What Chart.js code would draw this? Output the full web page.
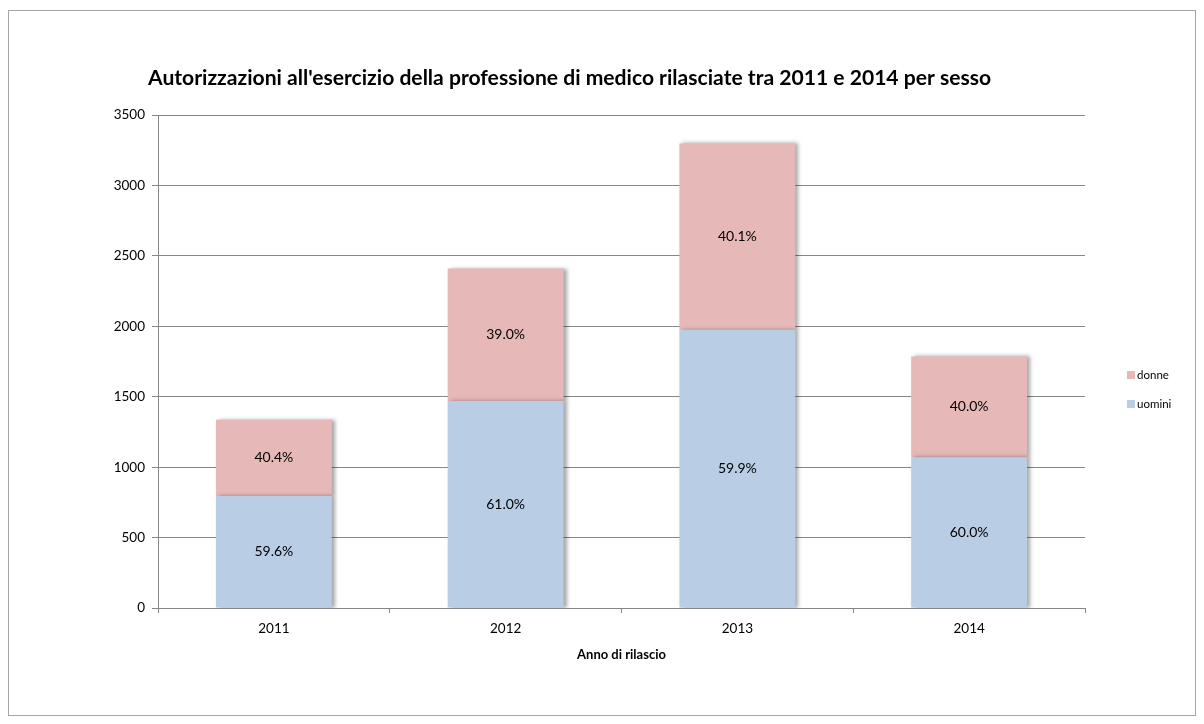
<!DOCTYPE html>
<html>
<head>
<meta charset="utf-8">
<script src="https://cdn.jsdelivr.net/npm/chart.js@4/dist/chart.umd.min.js"></script>
<style>
  html, body { margin: 0; padding: 0; background: #fff; }
  #wrap { width: 1204px; height: 724px; }
</style>
</head>
<body>
<div id="wrap"><canvas id="chart" width="1204" height="724"></canvas></div>
<script>
// data
const years = ["2011", "2012", "2013", "2014"];
const uomini = [796, 1470, 1976, 1071];
const donne = [540, 940, 1322, 715];
const yTicks = [0, 500, 1000, 1500, 2000, 2500, 3000, 3500];

const FONT = "Lato, 'Open Sans', sans-serif";
const titleText = "Autorizzazioni all'esercizio della professione di medico rilasciate tra 2011 e 2014 per sesso";

// frame + title
const framePlugin = {
  id: "frame",
  beforeDraw(chart) {
    const ctx = chart.ctx;
    ctx.save();
    ctx.fillStyle = "#fff";
    ctx.fillRect(0, 0, chart.width, chart.height);
    ctx.strokeStyle = "#a6a6a6";
    ctx.lineWidth = 1;
    ctx.strokeRect(8.5, 10.5, 1187, 705);
    ctx.restore();
  },
  afterDraw(chart) {
    const ctx = chart.ctx;
    ctx.save();
    // fit the title to the width it has in the original (about 845px)
    ctx.font = "bold 20px " + FONT;
    const w = ctx.measureText(titleText).width;
    const size = Math.min(22, 20 * 845 / w);
    ctx.font = "bold " + size.toFixed(1) + "px " + FONT;
    ctx.fillStyle = "#000";
    ctx.textBaseline = "middle";
    ctx.fillText(titleText, 148, 78);
    ctx.restore();
  }
};

// soft shadow on the right of each bar
const shadowPlugin = {
  id: "barShadow",
  beforeDatasetDraw(chart) {
    const ctx = chart.ctx;
    ctx.save();
    ctx.shadowColor = "rgba(0,0,0,0.35)";
    ctx.shadowBlur = 4;
    ctx.shadowOffsetX = 3;
    ctx.shadowOffsetY = 0;
  },
  afterDatasetDraw(chart) {
    chart.ctx.restore();
  }
};

// percentage labels in each segment
const pctPlugin = {
  id: "pctLabels",
  afterDatasetsDraw(chart) {
    const ctx = chart.ctx;
    const sets = chart.data.datasets;
    ctx.save();
    ctx.font = "14px " + FONT;
    ctx.fillStyle = "#000";
    ctx.textAlign = "center";
    ctx.textBaseline = "middle";
    sets.forEach((ds, di) => {
      const meta = chart.getDatasetMeta(di);
      meta.data.forEach((bar, i) => {
        const total = sets.reduce((s, d) => s + d.data[i], 0);
        const pct = (ds.data[i] / total * 100).toFixed(1) + "%";
        ctx.fillText(pct, bar.x, (bar.y + bar.base) / 2);
      });
    });
    ctx.restore();
  }
};

// legend on the right, donne above uomini
const legendPlugin = {
  id: "sideLegend",
  afterDraw(chart) {
    const ctx = chart.ctx;
    const sets = chart.data.datasets.slice().reverse();
    ctx.save();
    ctx.font = "11.5px " + FONT;
    ctx.textBaseline = "middle";
    sets.forEach((ds, i) => {
      const y = 375 + i * 29;
      ctx.fillStyle = ds.backgroundColor;
      ctx.fillRect(1127, y - 4, 8, 8);
      ctx.fillStyle = "#000";
      ctx.fillText(ds.label, 1137, y);
    });
    ctx.restore();
  }
};

new Chart(document.getElementById("chart"), {
  type: "bar",
  data: {
    labels: years,
    datasets: [
      { label: "uomini", data: uomini, backgroundColor: "#b9cde5" },
      { label: "donne", data: donne, backgroundColor: "#e6b9b8" }
    ]
  },
  options: {
    responsive: false,
    animation: false,
    events: [],
    layout: { padding: { left: 0, right: 119, top: 115, bottom: 61 } },
    plugins: {
      legend: { display: false },
      title: { display: false },
      tooltip: { enabled: false }
    },
    datasets: {
      bar: { categoryPercentage: 0.5, barPercentage: 1.0, borderWidth: 0 }
    },
    scales: {
      x: {
        stacked: true,
        afterFit(s) { s.height = 55; },
        border: { color: "#868686", width: 1 },
        grid: {
          offset: true,
          drawOnChartArea: false,
          drawTicks: true,
          tickLength: 5,
          color: "#868686"
        },
        ticks: { color: "#000", font: { family: FONT, size: 13.5 }, padding: 8 },
        title: {
          display: true,
          text: "Anno di rilascio",
          color: "#000",
          font: { family: FONT, size: 13, weight: "bold" },
          padding: { top: 4, bottom: 0 }
        }
      },
      y: {
        stacked: true,
        min: 0,
        max: 3500,
        afterFit(s) { s.width = 158; },
        afterBuildTicks(s) { s.ticks = yTicks.map(v => ({ value: v })); },
        border: { color: "#868686", width: 1 },
        grid: {
          color: "#868686",
          drawTicks: true,
          tickLength: 6
        },
        ticks: {
          color: "#000",
          font: { family: FONT, size: 13.5 },
          padding: 7,
          callback: v => String(v)
        }
      }
    }
  },
  plugins: [framePlugin, shadowPlugin, pctPlugin, legendPlugin]
});
</script>
</body>
</html>
